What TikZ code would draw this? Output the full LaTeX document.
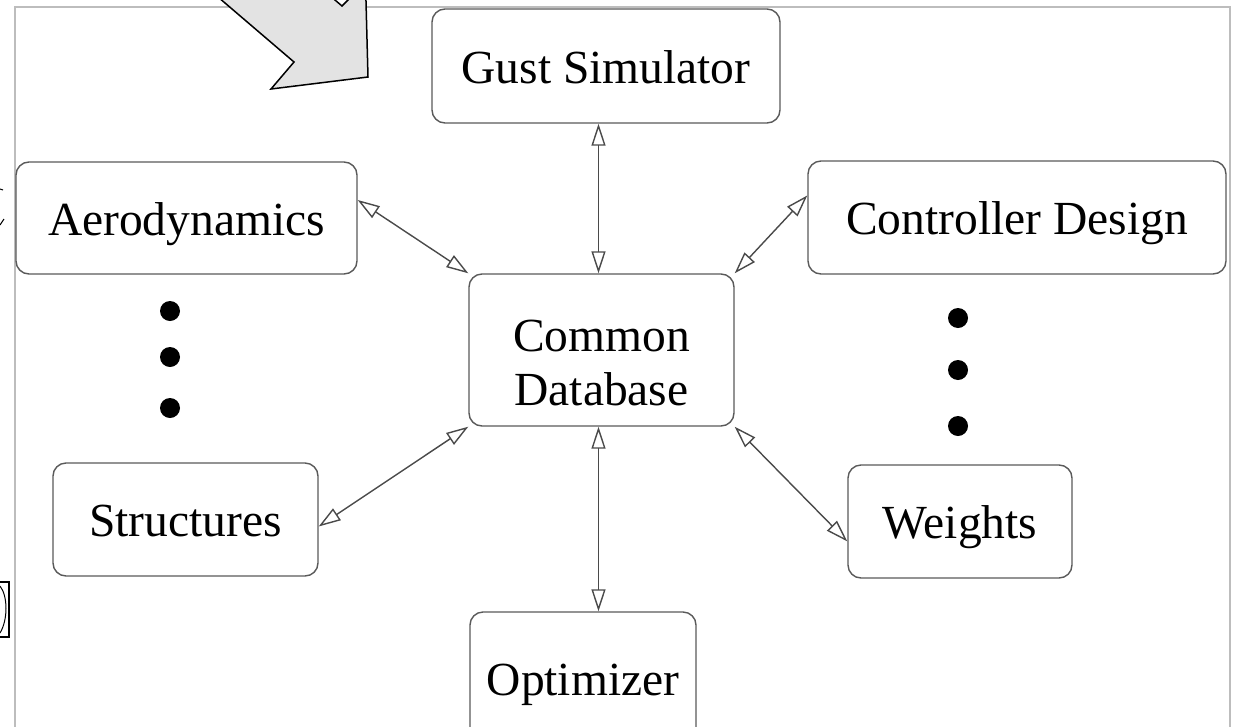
\documentclass[tikz,border=0pt]{standalone}
\usepackage{fontspec}
\setmainfont{Liberation Serif}
\usetikzlibrary{arrows.meta,calc}

\definecolor{framegray}{HTML}{BDBDBD}
\definecolor{boxgray}{HTML}{5A5A5A}
\definecolor{linkgray}{HTML}{4A4A4A}
\definecolor{pointerfill}{HTML}{E3E3E3}

\tikzset{
  labelfont/.style={font=\fontsize{47.5}{54}\selectfont},
  module/.style={draw=boxgray, line width=1.4pt, rounded corners=13pt,
    inner sep=0pt, text height=34pt, text depth=0pt, labelfont},
  caption/.style={inner sep=0pt, anchor=base, labelfont},
  link/.style={draw=linkgray, line width=1.4pt,
    {Triangle[open, length=22pt, width=14pt]}-{Triangle[open, length=22pt, width=14pt]}},
  bullet/.style={circle, fill=black, inner sep=0pt, minimum size=20pt}
}

\begin{document}
\begin{tikzpicture}[x=1pt, y=-1pt]
  \useasboundingbox (0,0) rectangle (1237,726);
  \clip (0,0) rectangle (1237,726);
  \fill[white] (0,0) rectangle (1237,726);

  % light outer frame, open at the bottom
  \draw[framegray, line width=2pt] (15,740) -- (15,7) -- (1230,7) -- (1230,740);

  % stray marks at the left edge
  \draw[black, line width=1pt] (0,189) -- (3,190);
  \draw[black, line width=1pt] (0,225) -- (4,219);
  \draw[black, line width=1.2pt] (-5,582) rectangle (9,637);
  \draw[black, line width=1pt] (0,586) .. controls (8,596) and (8,620) .. (0,633);

  % large pointer arrow
  \draw[black, line width=1.5pt, fill=pointerfill, line join=miter]
    (142,-68) -- (294,62) -- (271,89) -- (368,77) -- (365.5,-17.5)
    -- (342,6) -- (190,-124) -- cycle;

  % modules
  \node[module, minimum width=348pt, minimum height=114pt] (gust) at (606,66) {Gust Simulator};
  \node[module, minimum width=341pt, minimum height=112pt] (aero) at (186.5,218) {Aerodynamics};
  \node[module, minimum width=418pt, minimum height=113pt] (ctrl) at (1017,217.5) {Controller Design};
  \node[module, minimum width=265pt, minimum height=152pt] (db) at (601.5,350) {};
  \node[caption] (dbtop) at (601.5,351) {Common};
  \node[caption] (dbbot) at (601.5,405) {Database};
  \node[module, minimum width=265pt, minimum height=113pt] (struct) at (185.5,519.5) {Structures};
  \node[module, minimum width=224pt, minimum height=113pt] (weights) at (960,521.5) {Weights};
  \node[module, minimum width=226pt, minimum height=132pt] (opt) at (583,678) {Optimizer};

  % ellipsis dots
  \node[bullet] (la) at (170,311) {};
  \node[bullet] (lb) at (170,357) {};
  \node[bullet] (lc) at (170,408) {};
  \node[bullet] (ra) at (958,318) {};
  \node[bullet] (rb) at (958,370) {};
  \node[bullet] (rc) at (958,426) {};

  % two-way links to the database
  \draw[link] ($(db.north)+(-3,0)$) -- ($(db.north |- gust.south)+(-3,0)$);
  \draw[link] (aero.6) -- (db.north west);
  \draw[link] (ctrl.174.7) -- (db.north east);
  \draw[link] (struct.-3.7) -- (db.south west);
  \draw[link] (weights.-170.4) -- (db.south east);
  \draw[link] ($(db.south)+(-3,0)$) -- ($(db.south |- opt.north)+(-3,0)$);
\end{tikzpicture}
\end{document}
